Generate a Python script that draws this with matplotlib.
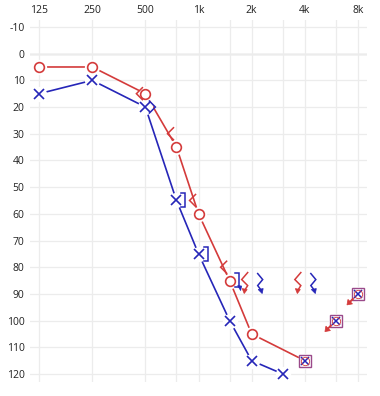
import matplotlib
matplotlib.use("Agg")
import matplotlib.pyplot as plt
import matplotlib.transforms as mtransforms
from matplotlib.patches import Polygon

plt.rcParams['font.family'] = ['Open Sans', 'DejaVu Sans']
plt.rcParams['axes.unicode_minus'] = False

# air conduction, right ear (red O)
right_freq = [125, 250, 500, 750, 1000, 1500, 2000, 4000]
right_db = [5, 5, 15, 35, 60, 85, 105, 115]
# air conduction, left ear (blue X)
left_freq = [125, 250, 500, 750, 1000, 1500, 2000, 3000]
left_db = [15, 10, 20, 55, 75, 100, 115, 120]

# boxed symbols (4k shared, 6k / 8k no response)
box_freq = [4000, 6000, 8000]
box_db = [115, 100, 90]
box_noresp = [False, True, True]

# bone conduction
r_bone_freq = [500, 750, 1000, 1500]
r_bone_db = [15, 30, 55, 80]
l_bone_freq = [500]
l_bone_db = [20]
l_mask_freq = [750, 1000]
l_mask_db = [55, 75]
# bone, no response
r_bone_nr_freq = [2000, 4000]
r_bone_nr_db = [85, 85]
l_bone_nr_freq = [2000, 4000]
l_bone_nr_db = [85, 85]
l_mask_nr_freq = [1500]
l_mask_nr_db = [85]

xticks = [125, 250, 500, 1000, 2000, 4000, 8000]
xlabels = ['125', '250', '500', '1k', '2k', '4k', '8k']
minor_x = [750, 1500, 3000, 6000]
yticks = list(range(-10, 121, 10))

RED = '#d43b3b'
BLUE = '#2626b8'

fig = plt.figure(figsize=(3.8, 3.96), dpi=100)
ax = fig.add_axes([30 / 380, 1 - 382 / 396, 337 / 380, 362 / 396])
ax.set_xscale('log')
ax.set_xlim(111, 9000)
ax.set_ylim(123, -12.6)
for s in ax.spines.values():
    s.set_visible(False)
ax.set_xticks(xticks)
ax.set_xticklabels(xlabels)
ax.set_xticks(minor_x, minor=True)
ax.set_xticklabels([], minor=True)
ax.set_yticks(yticks)
ax.xaxis.tick_top()
ax.tick_params(axis='both', which='both', length=0, labelsize=7.5, colors='#222222')
ax.tick_params(axis='x', pad=3)
ax.tick_params(axis='y', pad=4)
ax.grid(True, which='both', color='#ececec', lw=0.9, zorder=0)
ax.axhline(0, color='#c4c4c4', lw=1, zorder=1)


def at(f, d):
    # pixel offsets (1/100 inch) around a data point
    return fig.dpi_scale_trans + mtransforms.ScaledTranslation(f, d, ax.transData)


def shape(f, d, pts, color, head=None, lw=1.1):
    tr = at(f, d)
    xs = [p[0] / 100 for p in pts]
    ys = [p[1] / 100 for p in pts]
    ax.plot(xs, ys, color=color, lw=lw, transform=tr, zorder=5, solid_joinstyle='miter')
    if head is not None:
        ax.add_patch(Polygon([(p[0] / 100, p[1] / 100) for p in head], closed=True,
                             fc=color, ec=color, lw=0.5, transform=tr, zorder=6))


# lines
ax.plot(right_freq, right_db, color=RED, lw=1.2, zorder=2)
ax.plot(left_freq, left_db, color=BLUE, lw=1.2, zorder=2)

# white pads to open gaps around symbols
allf = right_freq + left_freq + box_freq
alld = right_db + left_db + box_db
ax.plot(allf, alld, ls='none', marker='o', ms=11, mfc='white', mec='none', zorder=3)

ax.plot(right_freq[:-1], right_db[:-1], ls='none', marker='o', ms=7, mfc='none',
        mec=RED, mew=1.2, zorder=5)
ax.plot(left_freq, left_db, ls='none', marker='x', ms=7.5, mec=BLUE, mew=1.2, zorder=5)

# boxed symbols
ax.plot(box_freq, box_db, ls='none', marker='s', ms=8, mfc='none', mec='#9a4a8a', mew=1.0, zorder=5)
ax.plot(box_freq, box_db, ls='none', marker='x', ms=6, mec=BLUE, mew=1.1, zorder=6)
ax.plot(box_freq, box_db, ls='none', marker='o', ms=6, mfc='none', mec=RED, mew=0.6, zorder=6)
for f, d, nr in zip(box_freq, box_db, box_noresp):
    if nr:
        shape(f, d, [(-5, -5), (-8, -8)], RED, head=[(-11, -11), (-10, -5.5), (-5.5, -10)], lw=1.4)

# bone conduction symbols
for f, d in zip(r_bone_freq, r_bone_db):
    shape(f, d, [(-3, 6), (-9, 0), (-3, -6)], RED)
for f, d in zip(l_bone_freq, l_bone_db):
    shape(f, d, [(4, 6), (10, 0), (4, -6)], BLUE)
for f, d in zip(l_mask_freq, l_mask_db):
    shape(f, d, [(5, 7), (9, 7), (9, -7), (5, -7)], BLUE)

for f, d in zip(r_bone_nr_freq, r_bone_nr_db):
    shape(f, d, [(-4, 8), (-10, 1), (-4, -5), (-6.5, -9)], RED,
          head=[(-7.5, -13), (-9.5, -8), (-4.5, -9)])
for f, d in zip(l_bone_nr_freq, l_bone_nr_db):
    shape(f, d, [(6, 7), (11, 1), (6, -5), (9, -9)], BLUE,
          head=[(10.5, -13), (6.5, -9), (11.5, -8)])
for f, d in zip(l_mask_nr_freq, l_mask_nr_db):
    shape(f, d, [(5, 8), (9, 8), (9, -6), (5, -6)], BLUE,
          head=[(11, -10), (8, -5), (12, -5.5)])

fig.savefig('out.png', dpi=100)
